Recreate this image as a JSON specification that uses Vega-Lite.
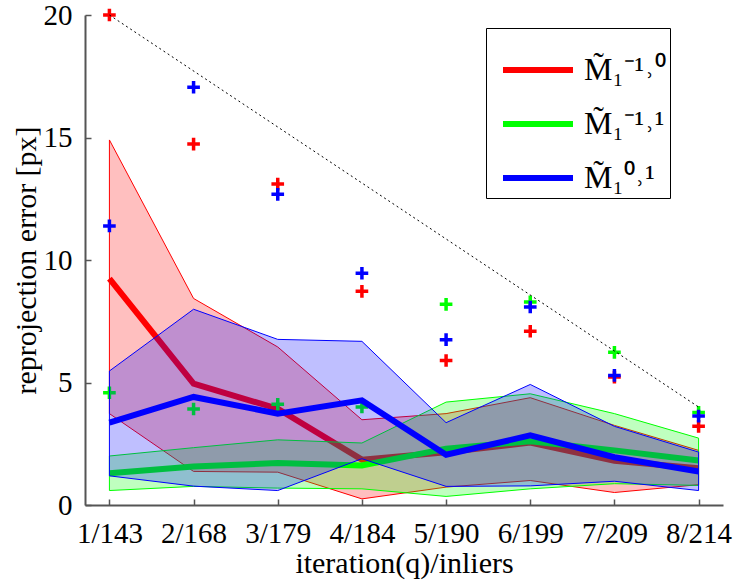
{
  "$schema": "https://vega.github.io/schema/vega-lite/v6.json",
  "width": 638,
  "height": 490,
  "autosize": {"type": "none"},
  "padding": {"left": 85, "top": 15, "right": 10, "bottom": 76},
  "background": "white",
  "config": {
    "view": {"stroke": null},
    "font": "Liberation Serif",
    "axis": {
      "labelFont": "Liberation Serif",
      "titleFont": "Liberation Serif",
      "labelFontSize": 29,
      "titleFontSize": 30,
      "titleFontWeight": "normal",
      "labelColor": "black",
      "titleColor": "black",
      "domainColor": "#555555",
      "domainWidth": 2,
      "tickColor": "#555555",
      "tickWidth": 1.5,
      "tickSize": -6,
      "grid": false
    },
    "legend": {
      "orient": "none",
      "legendX": 401,
      "legendY": 13,
      "strokeColor": "black",
      "fillColor": "white",
      "padding": 4,
      "symbolOffset": 10,
      "symbolType": "stroke",
      "symbolStrokeWidth": 6,
      "symbolSize": 4900,
      "rowPadding": 0,
      "labelFont": "Liberation Serif",
      "labelFontSize": 32,
      "labelColor": "black",
      "labelOffset": 8,
      "labelLimit": 300
    }
  },
  "datasets": {
    "d": [
      {"s": "r", "x": "1/143", "mean": 9.24, "lo": 3.73, "hi": 14.9, "pt": 20},
      {"s": "r", "x": "2/168", "mean": 4.95, "lo": 1.37, "hi": 8.43, "pt": 14.73},
      {"s": "r", "x": "3/179", "mean": 3.93, "lo": 1.34, "hi": 6.45, "pt": 13.1},
      {"s": "r", "x": "4/184", "mean": 1.85, "lo": 0.25, "hi": 3.48, "pt": 8.72},
      {"s": "r", "x": "5/190", "mean": 2.15, "lo": 0.73, "hi": 3.73, "pt": 5.9},
      {"s": "r", "x": "6/199", "mean": 2.55, "lo": 1.0, "hi": 4.38, "pt": 7.09},
      {"s": "r", "x": "7/209", "mean": 1.8, "lo": 0.51, "hi": 3.25, "pt": 5.22},
      {"s": "r", "x": "8/214", "mean": 1.5, "lo": 0.83, "hi": 2.23, "pt": 3.21},
      {"s": "g", "x": "1/143", "mean": 1.3, "lo": 0.59, "hi": 2.0, "pt": 4.58},
      {"s": "g", "x": "2/168", "mean": 1.57, "lo": 0.76, "hi": 2.34, "pt": 3.92},
      {"s": "g", "x": "3/179", "mean": 1.71, "lo": 0.69, "hi": 2.66, "pt": 4.11},
      {"s": "g", "x": "4/184", "mean": 1.61, "lo": 0.66, "hi": 2.53, "pt": 4.0},
      {"s": "g", "x": "5/190", "mean": 2.3, "lo": 0.35, "hi": 4.2, "pt": 8.19},
      {"s": "g", "x": "6/199", "mean": 2.6, "lo": 0.66, "hi": 4.54, "pt": 8.29},
      {"s": "g", "x": "7/209", "mean": 2.23, "lo": 0.87, "hi": 3.73, "pt": 6.23},
      {"s": "g", "x": "8/214", "mean": 1.82, "lo": 0.8, "hi": 2.73, "pt": 3.78},
      {"s": "b", "x": "1/143", "mean": 3.36, "lo": 1.19, "hi": 5.47, "pt": 11.39},
      {"s": "b", "x": "2/168", "mean": 4.41, "lo": 0.77, "hi": 7.99, "pt": 17.05},
      {"s": "b", "x": "3/179", "mean": 3.73, "lo": 0.59, "hi": 6.76, "pt": 12.68},
      {"s": "b", "x": "4/184", "mean": 4.27, "lo": 1.89, "hi": 6.68, "pt": 9.46},
      {"s": "b", "x": "5/190", "mean": 2.05, "lo": 0.76, "hi": 3.36, "pt": 6.75},
      {"s": "b", "x": "6/199", "mean": 2.84, "lo": 0.78, "hi": 4.92, "pt": 8.08},
      {"s": "b", "x": "7/209", "mean": 1.95, "lo": 0.97, "hi": 3.21, "pt": 5.29},
      {"s": "b", "x": "8/214", "mean": 1.37, "lo": 0.59, "hi": 2.16, "pt": 3.63}
    ],
    "labels": [
      {"s": "r", "label": "M̃₁⁻¹˒⁰"},
      {"s": "g", "label": "M̃₁⁻¹˒¹"},
      {"s": "b", "label": "M̃₁⁰˒¹"}
    ],
    "diag": [
      {"x": "1/143", "y": 20},
      {"x": "8/214", "y": 4}
    ]
  },
  "data": {"name": "d"},
  "transform": [
    {"lookup": "s", "from": {"data": {"name": "labels"}, "key": "s", "fields": ["label"]}}
  ],
  "encoding": {
    "x": {
      "field": "x",
      "type": "ordinal",
      "scale": {"type": "point", "padding": 0.29, "domain": ["1/143", "2/168", "3/179", "4/184", "5/190", "6/199", "7/209", "8/214"]},
      "axis": {"title": "iteration(q)/inliers", "labelAngle": 0, "labelPadding": 20, "titlePadding": 0}
    }
  },
  "layer": [
    {
      "transform": [{"filter": "datum.s === 'r'"}],
      "mark": {"type": "area", "color": "#ff0000", "fillOpacity": 0.25, "stroke": "#ff0000", "strokeWidth": 1},
      "encoding": {
        "y": {"field": "lo", "type": "quantitative", "scale": {"domain": [0, 20], "nice": false}, "axis": {"title": "reprojection error [px]", "values": [0, 5, 10, 15, 20], "labelPadding": 19, "titlePadding": 2}},
        "y2": {"field": "hi"}
      }
    },
    {
      "transform": [{"filter": "datum.s === 'r'"}],
      "mark": {"type": "line", "strokeWidth": 6},
      "encoding": {
        "y": {"field": "mean", "type": "quantitative"},
        "color": {"field": "label", "type": "nominal", "scale": {"domain": ["M̃₁⁻¹˒⁰", "M̃₁⁻¹˒¹", "M̃₁⁰˒¹"], "range": ["#ff0000", "#00ff00", "#0000ff"]}, "legend": {"title": null}}
      }
    },
    {
      "transform": [{"filter": "datum.s === 'r'"}],
      "mark": {"type": "point", "shape": "M-1,0H1M0,-1V1", "filled": false, "stroke": "#ff0000", "strokeWidth": 3.5, "size": 160, "opacity": 1},
      "encoding": {"y": {"field": "pt", "type": "quantitative"}}
    },
    {
      "transform": [{"filter": "datum.s === 'g'"}],
      "mark": {"type": "area", "color": "#00ff00", "fillOpacity": 0.25, "stroke": "#00ff00", "strokeWidth": 1},
      "encoding": {
        "y": {"field": "lo", "type": "quantitative"},
        "y2": {"field": "hi"}
      }
    },
    {
      "transform": [{"filter": "datum.s === 'g'"}],
      "mark": {"type": "line", "strokeWidth": 6},
      "encoding": {
        "y": {"field": "mean", "type": "quantitative"},
        "color": {"field": "label", "type": "nominal"}
      }
    },
    {
      "transform": [{"filter": "datum.s === 'g'"}],
      "mark": {"type": "point", "shape": "M-1,0H1M0,-1V1", "filled": false, "stroke": "#00ff00", "strokeWidth": 3.5, "size": 160, "opacity": 1},
      "encoding": {"y": {"field": "pt", "type": "quantitative"}}
    },
    {
      "transform": [{"filter": "datum.s === 'b'"}],
      "mark": {"type": "area", "color": "#0000ff", "fillOpacity": 0.25, "stroke": "#0000ff", "strokeWidth": 1},
      "encoding": {
        "y": {"field": "lo", "type": "quantitative"},
        "y2": {"field": "hi"}
      }
    },
    {
      "transform": [{"filter": "datum.s === 'b'"}],
      "mark": {"type": "line", "strokeWidth": 6},
      "encoding": {
        "y": {"field": "mean", "type": "quantitative"},
        "color": {"field": "label", "type": "nominal"}
      }
    },
    {
      "transform": [{"filter": "datum.s === 'b'"}],
      "mark": {"type": "point", "shape": "M-1,0H1M0,-1V1", "filled": false, "stroke": "#0000ff", "strokeWidth": 3.5, "size": 160, "opacity": 1},
      "encoding": {"y": {"field": "pt", "type": "quantitative"}}
    },
    {
      "data": {"name": "diag"},
      "mark": {"type": "line", "color": "black", "strokeWidth": 1, "strokeDash": [2, 3]},
      "encoding": {"y": {"field": "y", "type": "quantitative"}}
    }
  ]
}
